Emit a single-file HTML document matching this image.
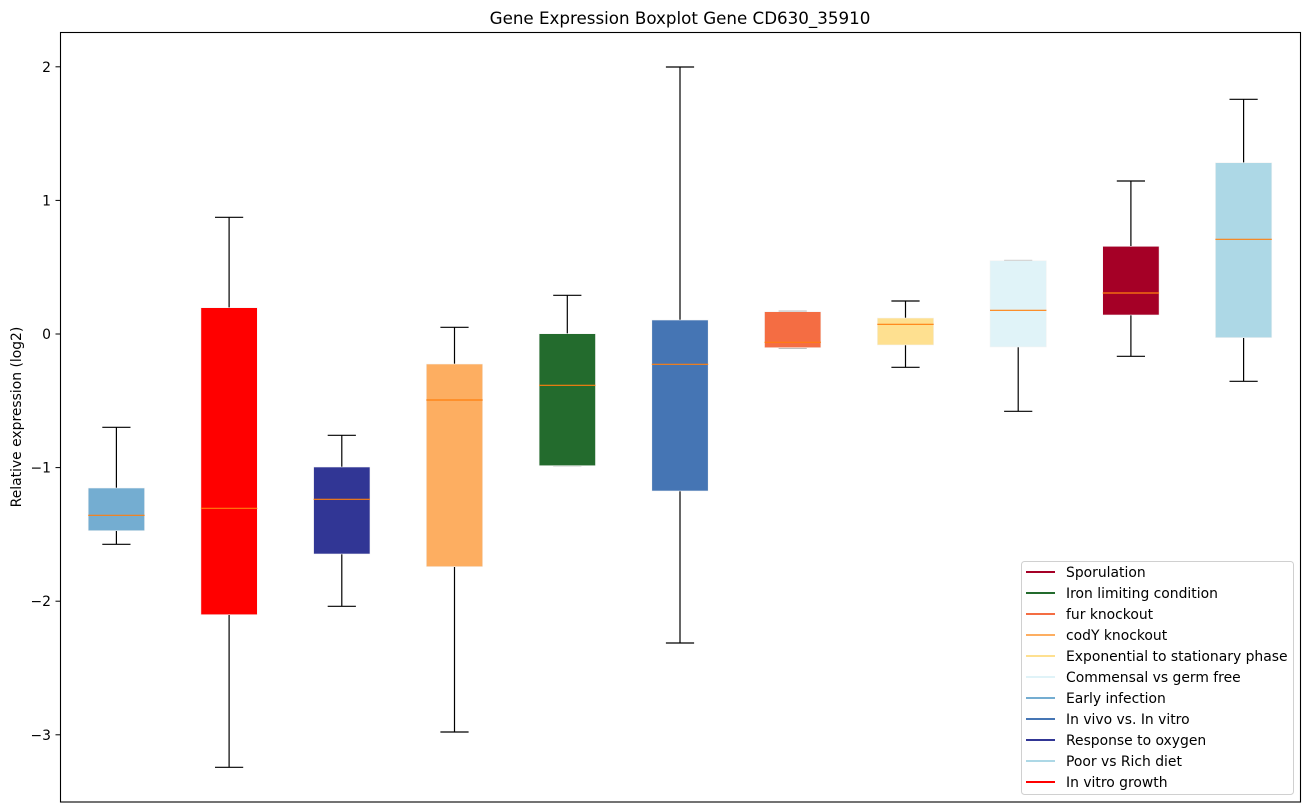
<!DOCTYPE html>
<html>
<head>
<meta charset="utf-8">
<style>
html,body{margin:0;padding:0;background:#fff;}
svg{display:block;font-family:"DejaVu Sans","Liberation Sans",sans-serif;}
</style>
</head>
<body>
<svg width="1309" height="812" viewBox="0 0 1309 812" xmlns="http://www.w3.org/2000/svg">
<rect x="0" y="0" width="1309" height="812" fill="#fff"/>
<text x="680" y="24" font-size="16.7" text-anchor="middle" fill="#000">Gene Expression Boxplot Gene CD630_35910</text>

<!-- whiskers and caps -->
<g stroke="#000" stroke-width="1.2" fill="none">
<!-- 1 -->
<line x1="116.4" y1="427.3" x2="116.4" y2="488"/><line x1="116.4" y1="530.7" x2="116.4" y2="544.3"/>
<line x1="102.3" y1="427.3" x2="130.5" y2="427.3"/><line x1="102.3" y1="544.3" x2="130.5" y2="544.3"/>
<!-- 2 -->
<line x1="229.1" y1="217.3" x2="229.1" y2="307.7"/><line x1="229.1" y1="614.7" x2="229.1" y2="767.3"/>
<line x1="215" y1="217.3" x2="243.2" y2="217.3"/><line x1="215" y1="767.3" x2="243.2" y2="767.3"/>
<!-- 3 -->
<line x1="341.8" y1="435.3" x2="341.8" y2="467"/><line x1="341.8" y1="554" x2="341.8" y2="606.3"/>
<line x1="327.7" y1="435.3" x2="355.9" y2="435.3"/><line x1="327.7" y1="606.3" x2="355.9" y2="606.3"/>
<!-- 4 -->
<line x1="454.5" y1="327.3" x2="454.5" y2="364"/><line x1="454.5" y1="566.7" x2="454.5" y2="732"/>
<line x1="440.4" y1="327.3" x2="468.6" y2="327.3"/><line x1="440.4" y1="732" x2="468.6" y2="732"/>
<!-- 5 -->
<line x1="567.3" y1="295.3" x2="567.3" y2="333.7"/>
<line x1="553.2" y1="295.3" x2="581.4" y2="295.3"/><line x1="553.2" y1="465.7" x2="581.4" y2="465.7" stroke="#999"/>
<!-- 6 -->
<line x1="680" y1="67" x2="680" y2="320"/><line x1="680" y1="491" x2="680" y2="643"/>
<line x1="665.9" y1="67" x2="694.1" y2="67"/><line x1="665.9" y1="643" x2="694.1" y2="643"/>
<!-- 7 -->
<line x1="778.6" y1="311.2" x2="806.8" y2="311.2" stroke="#aaa"/><line x1="778.6" y1="348.2" x2="806.8" y2="348.2" stroke="#aaa"/>
<!-- 8 -->
<line x1="905.5" y1="301" x2="905.5" y2="318"/><line x1="905.5" y1="345" x2="905.5" y2="367.3"/>
<line x1="891.4" y1="301" x2="919.6" y2="301"/><line x1="891.4" y1="367.3" x2="919.6" y2="367.3"/>
<!-- 9 -->
<line x1="1004.1" y1="260.5" x2="1032.3" y2="260.5" stroke="#aaa"/>
<line x1="1018.2" y1="347" x2="1018.2" y2="411.3"/>
<line x1="1004.1" y1="411.3" x2="1032.3" y2="411.3"/>
<!-- 10 -->
<line x1="1130.9" y1="181" x2="1130.9" y2="246.3"/><line x1="1130.9" y1="315" x2="1130.9" y2="356.3"/>
<line x1="1116.8" y1="181" x2="1145" y2="181"/><line x1="1116.8" y1="356.3" x2="1145" y2="356.3"/>
<!-- 11 -->
<line x1="1243.6" y1="99.3" x2="1243.6" y2="162.7"/><line x1="1243.6" y1="337.7" x2="1243.6" y2="381.3"/>
<line x1="1229.5" y1="99.3" x2="1257.7" y2="99.3"/><line x1="1229.5" y1="381.3" x2="1257.7" y2="381.3"/>
</g>

<!-- boxes -->
<g stroke="#f4f4f4" stroke-width="0.6">
<rect x="88.2" y="488" width="56.4" height="42.7" fill="#74add1"/>
<rect x="200.9" y="307.7" width="56.4" height="307" fill="#ff0000"/>
<rect x="313.6" y="467" width="56.4" height="87" fill="#313695"/>
<rect x="426.3" y="364" width="56.4" height="202.7" fill="#fdae61"/>
<rect x="539.1" y="333.7" width="56.4" height="132" fill="#236b2d"/>
<rect x="651.8" y="320" width="56.4" height="171" fill="#4575b4"/>
<rect x="764.5" y="311.7" width="56.4" height="36" fill="#f46d43"/>
<rect x="877.3" y="318" width="56.4" height="27" fill="#fee090"/>
<rect x="990" y="260.7" width="56.4" height="86.3" fill="#e0f3f8"/>
<rect x="1102.7" y="246.3" width="56.4" height="68.7" fill="#a50026"/>
<rect x="1215.4" y="162.7" width="56.4" height="175" fill="#add8e6"/>
</g>

<!-- medians -->
<g stroke="#ff7f0e" stroke-width="1.2">
<line x1="88.2" y1="515.3" x2="144.6" y2="515.3"/>
<line x1="200.9" y1="508.3" x2="257.3" y2="508.3"/>
<line x1="313.6" y1="499.3" x2="370" y2="499.3"/>
<line x1="426.3" y1="400" x2="482.7" y2="400"/>
<line x1="539.1" y1="385.3" x2="595.5" y2="385.3"/>
<line x1="651.8" y1="364.3" x2="708.2" y2="364.3"/>
<line x1="764.5" y1="342.3" x2="820.9" y2="342.3"/>
<line x1="877.3" y1="324.3" x2="933.7" y2="324.3"/>
<line x1="990" y1="310.3" x2="1046.4" y2="310.3"/>
<line x1="1102.7" y1="293" x2="1159.1" y2="293"/>
<line x1="1215.4" y1="239.3" x2="1271.8" y2="239.3"/>
</g>

<!-- axes frame -->
<rect x="60.5" y="32.5" width="1240" height="769.5" fill="none" stroke="#000" stroke-width="1.1"/>

<!-- y ticks -->
<g stroke="#000" stroke-width="1">
<line x1="55.5" y1="66.8" x2="60.5" y2="66.8"/>
<line x1="55.5" y1="200.4" x2="60.5" y2="200.4"/>
<line x1="55.5" y1="334" x2="60.5" y2="334"/>
<line x1="55.5" y1="467.6" x2="60.5" y2="467.6"/>
<line x1="55.5" y1="601.2" x2="60.5" y2="601.2"/>
<line x1="55.5" y1="734.8" x2="60.5" y2="734.8"/>
</g>
<g font-size="13.9" text-anchor="end" fill="#000">
<text x="51" y="71.8">2</text>
<text x="51" y="205.4">1</text>
<text x="51" y="339">0</text>
<text x="51" y="472.6">−1</text>
<text x="51" y="606.2">−2</text>
<text x="51" y="739.8">−3</text>
</g>
<text transform="translate(21,417) rotate(-90)" font-size="13.9" text-anchor="middle" fill="#000">Relative expression (log2)</text>

<!-- legend -->
<rect x="1021.5" y="561.5" width="272" height="233" rx="3" fill="#fff" fill-opacity="0.8" stroke="#d0d0d0" stroke-width="1"/>
<g stroke-width="2">
<line x1="1026" y1="572" x2="1055" y2="572" stroke="#a50026"/>
<line x1="1026" y1="593" x2="1055" y2="593" stroke="#236b2d"/>
<line x1="1026" y1="614" x2="1055" y2="614" stroke="#f46d43"/>
<line x1="1026" y1="635" x2="1055" y2="635" stroke="#fdae61"/>
<line x1="1026" y1="656" x2="1055" y2="656" stroke="#fee090"/>
<line x1="1026" y1="677" x2="1055" y2="677" stroke="#e0f3f8"/>
<line x1="1026" y1="698" x2="1055" y2="698" stroke="#74add1"/>
<line x1="1026" y1="719" x2="1055" y2="719" stroke="#4575b4"/>
<line x1="1026" y1="740" x2="1055" y2="740" stroke="#313695"/>
<line x1="1026" y1="761" x2="1055" y2="761" stroke="#add8e6"/>
<line x1="1026" y1="782" x2="1055" y2="782" stroke="#ff0000"/>
</g>
<g font-size="13.9" fill="#000">
<text x="1066" y="577">Sporulation</text>
<text x="1066" y="598">Iron limiting condition</text>
<text x="1066" y="619">fur knockout</text>
<text x="1066" y="640">codY knockout</text>
<text x="1066" y="661">Exponential to stationary phase</text>
<text x="1066" y="682">Commensal vs germ free</text>
<text x="1066" y="703">Early infection</text>
<text x="1066" y="724">In vivo vs. In vitro</text>
<text x="1066" y="745">Response to oxygen</text>
<text x="1066" y="766">Poor vs Rich diet</text>
<text x="1066" y="787">In vitro growth</text>
</g>
</svg>
</body>
</html>
